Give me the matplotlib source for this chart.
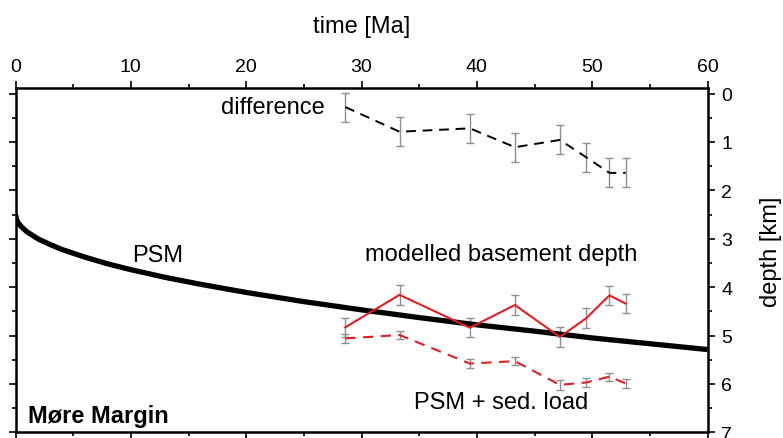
import matplotlib
matplotlib.use("Agg")
import matplotlib.pyplot as plt
from matplotlib.ticker import MultipleLocator

plt.rcParams['font.family'] = ['Liberation Sans', 'DejaVu Sans']

# Plate subsidence model (PSM) curve, depth in km vs time in Ma
psm_time = [0, 0.1, 0.25, 0.5, 1, 2, 3, 4, 6, 8, 10, 13, 16, 20, 25, 30, 35, 40, 45, 50, 55, 60]
psm_depth = [2.50, 2.61, 2.68, 2.75, 2.86, 3.01, 3.12, 3.22, 3.38, 3.52, 3.64, 3.80, 3.94,
             4.11, 4.30, 4.47, 4.63, 4.78, 4.91, 5.05, 5.17, 5.29]

# Sample ages (Ma)
age = [28.6, 33.3, 39.4, 43.3, 47.2, 49.5, 51.5, 52.9]

# Modelled basement depth (km) with uncertainty
basement = [4.83, 4.16, 4.84, 4.37, 5.03, 4.64, 4.17, 4.34]
basement_err = [0.20, 0.20, 0.20, 0.20, 0.20, 0.20, 0.20, 0.20]

# PSM + sediment load (km) with uncertainty
psm_sed = [5.06, 4.99, 5.58, 5.53, 6.02, 5.97, 5.85, 5.99]
psm_sed_err = [0.10, 0.08, 0.10, 0.08, 0.10, 0.10, 0.08, 0.10]

# Difference (km) with uncertainty
difference = [0.28, 0.79, 0.72, 1.11, 0.96, 1.32, 1.64, 1.64]
difference_err = [0.30, 0.30, 0.30, 0.30, 0.30, 0.30, 0.30, 0.30]

W, H = 783, 439
fig = plt.figure(figsize=(W / 100, H / 100), dpi=100)
ax = fig.add_axes([15.5 / W, (H - 433.3) / H, 692 / W, (433.3 - 88.5) / H])

ax.set_xlim(0, 60)
ax.set_ylim(7, -0.124)

red = '#e02020'
errc = '#8f8f8f'
ebkw = dict(ecolor=errc, elinewidth=1.0, capsize=2.6, capthick=1.0)

ax.plot(psm_time, psm_depth, color='black', lw=3.8, solid_capstyle='butt', zorder=3)

ax.errorbar(age, difference, yerr=difference_err, fmt='none', zorder=2, **ebkw)
ax.plot(age, difference, color='black', lw=1.4, ls=(0, (5, 3.5)), zorder=4)

ax.errorbar(age, basement, yerr=basement_err, fmt='none', zorder=2, **ebkw)
ax.plot(age, basement, color=red, lw=1.5, zorder=4)

ax.errorbar(age, psm_sed, yerr=psm_sed_err, fmt='none', zorder=2, **ebkw)
ax.plot(age, psm_sed, color=red, lw=1.5, ls=(0, (5, 3.5)), zorder=4)

# Axis styling: ticks outside, labels on top and right
for side in ['top', 'bottom', 'left', 'right']:
    ax.spines[side].set_linewidth(1.8)

ax.xaxis.set_major_locator(MultipleLocator(10))
ax.xaxis.set_minor_locator(MultipleLocator(5))
ax.yaxis.set_major_locator(MultipleLocator(1))
ax.yaxis.set_minor_locator(MultipleLocator(0.5))

ax.tick_params(axis='x', which='both', top=True, bottom=True, labeltop=True,
               labelbottom=False, direction='out', width=1.2, labelsize=14, pad=4)
ax.tick_params(axis='x', which='major', length=5)
ax.tick_params(axis='x', which='minor', length=3)
ax.tick_params(axis='y', which='both', left=True, right=True, labelleft=False,
               labelright=True, direction='out', width=1.2, labelsize=14, pad=5)
ax.tick_params(axis='y', which='major', length=5)
ax.tick_params(axis='y', which='minor', length=3)

fig.text(362 / W, 1 - 27 / H, 'time [Ma]', ha='center', va='center', fontsize=17)
fig.text(771 / W, 1 - 252 / H, 'depth [km]', ha='center', va='center',
         rotation=90, fontsize=17)

ax.text(22.3, 0.28, 'difference', ha='center', va='center', fontsize=17)
ax.text(12.3, 3.34, 'PSM', ha='center', va='center', fontsize=17)
ax.text(42.1, 3.32, 'modelled basement depth', ha='center', va='center', fontsize=17)
ax.text(42.1, 6.37, 'PSM + sed. load', ha='center', va='center', fontsize=17)
ax.text(1.1, 6.66, 'Møre Margin', ha='left', va='center', fontsize=17, fontweight='bold')

fig.savefig('out.png', dpi=100)
